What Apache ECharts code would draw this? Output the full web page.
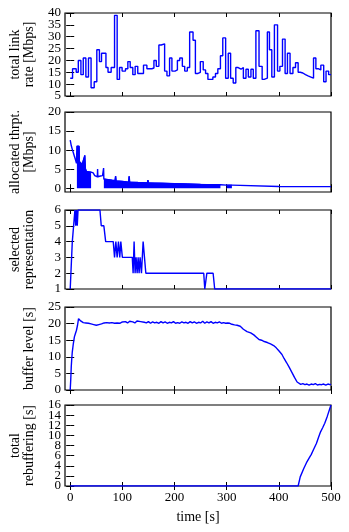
<!DOCTYPE html>
<html><head><meta charset="utf-8">
<script src="https://cdn.jsdelivr.net/npm/echarts@6/dist/echarts.min.js"></script>
<style>html,body{margin:0;padding:0;background:#fff}#c{width:349px;height:532px}</style>
</head><body><div id="c"></div>
<script>
// ---------- data ----------
const xTicks = [0, 100, 200, 300, 400, 500];

// panel 1: total link rate [Mbps] (step, value holds from time on)
const linkTimes = [0,4.5,11.5,15.5,20.5,25,30,35,40,46,51,56,60,68.5,72.5,78.5,85,90,94.5,99.5,106,110.5,115,120,124.5,129.5,140.5,147,156.5,160.5,165,170,174.5,181,185.5,190.5,195,201,205.5,210,215,219.5,224.5,229,235.5,240,245,249.5,255,259.5,264,273.5,278.5,283,288,292.5,298,303,307.5,312.5,317.5,322,327.5,332,337,341.5,346.5,351,356,362,368,372,378,382,386.5,391.5,397.5,402,407,412,416.5,421.5,427,432,437,441,446,451,456,461.5,466.5,471,475.5,480.5,486,490.5,495.5,500];
const linkRates = [12.5,16.5,15,20,14,21,13,21,8.5,11,24.5,19.5,23,17,15,17,39,12,17,15.5,16.5,19.5,17,14,17.5,14.5,18,16.5,16.8,20,17.5,26.5,27,15.5,13.5,21,15.5,16,20,21,17.5,15.5,17,32,28.5,14.5,15,19.5,16,14.5,12,13,14.5,16.5,22,29.5,12.5,23,12.5,10.5,17,16.3,17,12.5,16.3,13,16.3,12.5,32.5,17.5,12,12.5,32,24.5,13,35,15.5,17.5,29,14.5,23,14.5,17,19,15,14.7,14,13.5,13,12.5,21,16.5,16,18,11,15.5,14,14];

// panel 2: allocated throughput [Mbps] (upper envelope line)
const thrTimes = [0,2,4,6,8,10,12,12.8,17,17.5,20,23,26,28,29,31,35,40,44,47,52,52.5,53,58,62,64,64.5,70,80,86,87,88,100,112,113,114,130,148,149,150,175,200,225,250,288,289,300,310,311,400,500];
const thrValues = [12.6,11.2,10.2,9.3,8.4,7.5,6.5,11,11,7,6.6,6.3,5.8,8.6,5.2,4.4,4.3,4.2,4,3.3,3,5,3,3.2,3.3,5.3,2.4,2.3,2.1,2,3.2,1.9,1.8,1.6,3.1,1.6,1.5,1.4,2.1,1.4,1.3,1.2,1.1,1.0,0.9,0.7,0.8,0.8,0.5,0.45,0.4];
// time ranges where the throughput oscillates down to zero (dense band)
const thrBandRanges = [[12.8, 40], [64.5, 288], [300, 310]];

// panel 3: selected representation
const repTimes = [0,4,7,9,10.5,12,13.5,15,57,59.5,64.5,68,82.5,85,87.5,90,92.5,95,97,100,119,120.6,122.5,124.4,126.3,128.3,130.2,132.1,134,136.6,139.8,141.7,145,256,258,262,274,277,500];
const repValues = [1,4,4,6,5,6,5,6,6,5,5,4,4,3,4,3,4,3,4,3,3,2,4,2,3,2,3,2,3,2,4,4,2,2,1,2,2,1,1];

// panel 4: buffer level [s]
const bufTimes = [0,1,2,3,4,6,8,10,12,14,16,17,18,19,20,22,25,30,35,40,45,50,55,60,65,67,70,75,80,85,90,95,100,103,106,110,114,117,120,124,128,131,135,138,142,146,150,154,158,162,166,170,174,178,182,186,190,194,198,202,206,210,214,218,222,226,230,234,238,242,246,250,254,258,262,266,270,274,278,282,286,290,294,298,302,306,310,315,320,326,332,339,346,352,357,362,367,372,378,384,390,395,400,406,410,415,420,425,430,435,438,442,446,450,454,458,462,466,470,474,478,482,486,490,494,498,500];
const bufValues = [0,3,7,9.5,11.5,14,16,17,18,19.5,21.5,22,21.4,21.8,20.8,20.4,20.3,20.2,20.1,19.9,19.7,19.5,19.7,19.9,20.2,20.5,20.3,20.2,20.3,20.1,20.2,20.1,20.5,20.1,20.6,20.2,20.7,20.1,20.5,20.2,20.8,20.2,20.6,20.1,20.4,20.2,20.6,20.1,20.5,20.2,20.4,20.1,20.6,20.2,20.5,20.1,20.4,20.2,20.6,20.1,20.3,20.1,20.5,20.2,20.4,20.1,20.6,20.2,20.5,20.1,20.4,20.2,20.7,20.1,20.5,20.2,20.6,20.1,20.4,20.2,20.5,20.1,20.3,20.1,20.2,20.1,19.8,19.6,19.5,19.2,18.3,17.6,17.2,16.6,15.9,15.2,15.0,14.6,14.3,13.9,13.4,12.7,11.8,10.7,9.5,8.2,6.8,5.3,3.8,2.4,1.8,1.7,1.9,1.6,1.8,1.5,1.8,1.6,1.9,1.5,1.7,1.6,1.8,1.5,1.8,1.6,1.7];

// panel 5: total rebuffering [s]
const rebTimes = [0,437,441,448,453,458,462,467,472,476,480,484,488,493,499,500];
const rebValues = [0,0,1.8,3.5,4.6,5.5,6.2,7.3,8.4,9.6,10.7,11.5,12.4,13.8,15.7,16];

// y tick labels per panel
const yTicks1 = [5,10,15,20,25,30,35,40];
const yTicks2 = [0,5,10,15,20];
const yTicks3 = [1,2,3,4,5,6];
const yTicks4 = [0,5,10,15,20,25];
const yTicks5 = [0,2,4,6,8,10,12,14,16];
const yNames = ['total link\nrate [Mbps]', 'allocated thrpt.\n[Mbps]', 'selected\nrepresentation', 'buffer level [s]', 'total\nrebuffering [s]'];

// ---------- build ----------
const zip = (a, b) => a.map((t, i) => [t, b[i]]);
const FONT = 'Liberation Serif';
const BLUE = '#0000ff';

const panels = [
  {top: 13, h: 83, min: 5, max: 40, ticks: yTicks1},
  {top: 112, h: 80, min: -1, max: 20, ticks: yTicks2},
  {top: 210, h: 79, min: 1, max: 6, ticks: yTicks3},
  {top: 307, h: 83, min: 0, max: 25, ticks: yTicks4},
  {top: 405, h: 81, min: 0, max: 16, ticks: yTicks5}
];

const grid = [], xAxis = [], yAxis = [], series = [];
const mainY = [], mainX = [];
panels.forEach((p, i) => {
  grid.push({left: 65, right: 18, top: p.top, height: p.h, show: true, borderColor: '#000', borderWidth: 1.2, backgroundColor: 'transparent'});
  const last = i === panels.length - 1;
  mainX.push(xAxis.length);
  ['bottom', 'top'].forEach((pos, k) => {
    xAxis.push({
      type: 'value', gridIndex: i, position: pos, min: -10, max: 500,
      axisLine: {show: false}, splitLine: {show: false},
      axisTick: {show: true, inside: true, length: 4, customValues: xTicks, lineStyle: {color: '#000', width: 1}},
      axisLabel: {show: last && k === 0, customValues: xTicks, fontFamily: FONT, fontSize: 13, color: '#000', margin: 5},
      name: (last && k === 0) ? 'time [s]' : '', nameLocation: 'middle', nameGap: 24,
      nameTextStyle: {fontFamily: FONT, fontSize: 14, color: '#000'}
    });
  });
  // labels split over two coincident left axes so that tight labels are all drawn
  const labA = p.ticks.filter((v, j) => j % 2 === 0);
  const labB = p.ticks.filter((v, j) => j % 2 === 1);
  const yBase = (pos) => ({
    type: 'value', gridIndex: i, position: pos, offset: 0, min: p.min, max: p.max,
    axisLine: {show: false}, splitLine: {show: false},
    axisTick: {show: false}, axisLabel: {show: false}
  });
  mainY.push(yAxis.length);
  const left = yBase('left');
  left.axisTick = {show: true, inside: true, length: 4, customValues: p.ticks, lineStyle: {color: '#000', width: 1}};
  left.axisLabel = {show: true, customValues: labA, showMinLabel: true, showMaxLabel: true, fontFamily: FONT, fontSize: 13, color: '#000', margin: 4};
  left.name = yNames[i]; left.nameLocation = 'middle'; left.nameRotate = 90; left.nameGap = 29;
  left.nameTextStyle = {fontFamily: FONT, fontSize: 14, color: '#000', lineHeight: 14};
  yAxis.push(left);
  const right = yBase('right');
  right.axisTick = {show: true, inside: true, length: 4, customValues: p.ticks, lineStyle: {color: '#000', width: 1}};
  yAxis.push(right);
  const left2 = yBase('left');
  left2.axisLabel = {show: true, customValues: labB, showMinLabel: true, showMaxLabel: true, fontFamily: FONT, fontSize: 13, color: '#000', margin: 4};
  yAxis.push(left2);
});

const lineBase = {type: 'line', showSymbol: false, symbol: 'none', animation: false, lineStyle: {color: BLUE, width: 1.4}, itemStyle: {color: BLUE}};
const on = (i) => ({xAxisIndex: mainX[i], yAxisIndex: mainY[i]});

// panel 1
series.push(Object.assign({}, lineBase, on(0), {step: 'end', data: zip(linkTimes, linkRates)}));

// panel 2: dense band (filled to zero) + envelope line
const bandData = [];
thrBandRanges.forEach((r, j) => {
  thrTimes.forEach((t, i) => { if (t >= r[0] && t <= r[1]) bandData.push([t, thrValues[i]]); });
  if (j < thrBandRanges.length - 1) bandData.push([ (r[1] + thrBandRanges[j+1][0]) / 2, null]);
});
series.push(Object.assign({}, lineBase, on(1), {data: bandData, connectNulls: false,
  lineStyle: {color: BLUE, width: 1}, areaStyle: {color: BLUE, opacity: 1, origin: 0}}));
series.push(Object.assign({}, lineBase, on(1), {data: zip(thrTimes, thrValues)}));

// panel 3
series.push(Object.assign({}, lineBase, on(2), {data: zip(repTimes, repValues)}));
// panel 4
series.push(Object.assign({}, lineBase, on(3), {data: zip(bufTimes, bufValues)}));
// panel 5
series.push(Object.assign({}, lineBase, on(4), {data: zip(rebTimes, rebValues)}));

const chart = echarts.init(document.getElementById('c'), null, {renderer: 'canvas'});
chart.setOption({animation: false, backgroundColor: '#fff', grid, xAxis, yAxis, series});
</script>
</body></html>
